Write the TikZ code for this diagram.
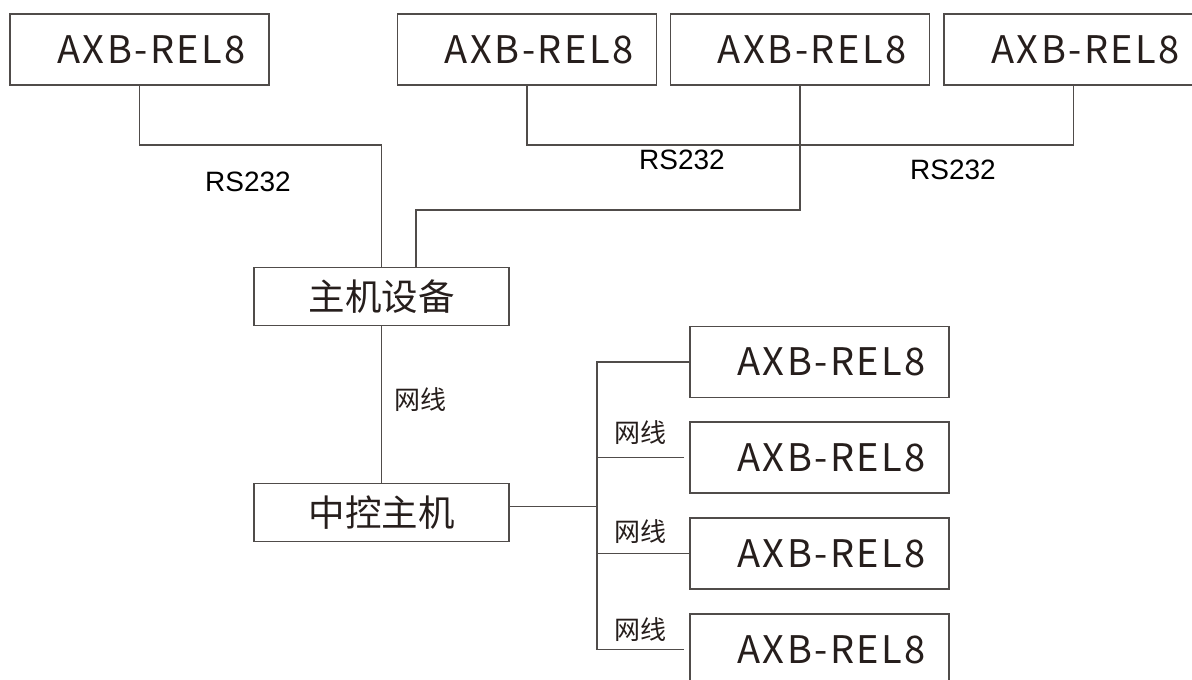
\documentclass[tikz,border=0pt]{standalone}
\usepackage{fontspec}
\setmainfont{Liberation Sans}
\newfontfamily\cjk{Noto Sans CJK SC}
\newfontfamily\relfont[LetterSpace=6.5]{Noto Sans CJK SC}
\usetikzlibrary{calc}
\definecolor{linecol}{RGB}{80,76,74}
\definecolor{textcol}{RGB}{38,30,28}
\newcommand{\relname}{\hspace*{24pt}AXB-REL8}

\tikzset{
	relbox/.style={draw=linecol, line width=1.9pt, minimum width=259pt, minimum height=71pt, inner sep=0pt, text=textcol, font=\relfont\fontsize{38}{38}\selectfont},
	hostbox/.style={draw=linecol, line width=1.9pt, minimum width=255pt, minimum height=58pt, inner sep=0pt, text=textcol, font=\cjk\fontsize{36.5}{36.5}\selectfont},
	wire/.style={draw=linecol, line width=1.9pt},
	rslabel/.style={font=\fontsize{28}{28}\selectfont},
	netlabel/.style={text=textcol, font=\cjk\fontsize{26}{26}\selectfont}
}

\begin{document}
\begin{tikzpicture}[x=1pt,y=-1pt]
		\useasboundingbox (0,0) rectangle (1192,680);
		\clip (0,0) rectangle (1192,680);
		% top row
		\node[relbox] (t1) at (139.5,49.5) {\relname};
		\node[relbox] (t2) at (527,49.5) {\relname};
		\node[relbox] (t3) at (800,49.5) {\relname};
		\node[relbox] (t4) at (1073.5,49.5) {\relname};
		% hosts
		\node[hostbox] (host) at (381.5,296.5) {主机设备};
		\node[hostbox] (ctrl) at (381.5,512.5) {中控主机};
		% right column
		\node[relbox] (r1) at (819.5,362) {\relname};
		\node[relbox] (r2) at (819.5,457.5) {\relname};
		\node[relbox] (r3) at (819.5,553.5) {\relname};
		\node[relbox] (r4) at (819.5,649.5) {\relname};
		\coordinate (bus) at (597,0);
		\coordinate (hostin) at ([xshift=34.5pt]host.north);
		\coordinate (ctrlout) at ([yshift=6pt]ctrl.east);
		% wires
		\draw[wire] (t1.south) -- ++(0,59) -| (host.north);
		\draw[wire] (t2.south) -- ++(0,59) -| (t4.south);
		\draw[wire] (t3.south) -- ++(0,124) -| (hostin);
		\draw[wire] (host.south) -- (ctrl.north);
		\draw[wire] (ctrlout) -- (ctrlout -| bus);
		\draw[wire] (r1.west) -- (r1.west -| bus) -- (r4.west -| bus) -- ([xshift=-5pt]r4.west);
		\draw[wire] ([xshift=-5pt]r2.west) -- (r2.west -| bus);
		\draw[wire] (r3.west) -- (r3.west -| bus);
		% labels
		\node[rslabel] (rs1) at (248,182) {RS232};
		\node[rslabel] (rs2) at (682,160) {RS232};
		\node[rslabel] (rs3) at (953,170) {RS232};
		\node[netlabel] (net1) at (420,400) {网线};
		\node[netlabel] (net2) at (640,433) {网线};
		\node[netlabel] (net3) at (640,532) {网线};
		\node[netlabel] (net4) at (640,630) {网线};
\end{tikzpicture}
\end{document}
